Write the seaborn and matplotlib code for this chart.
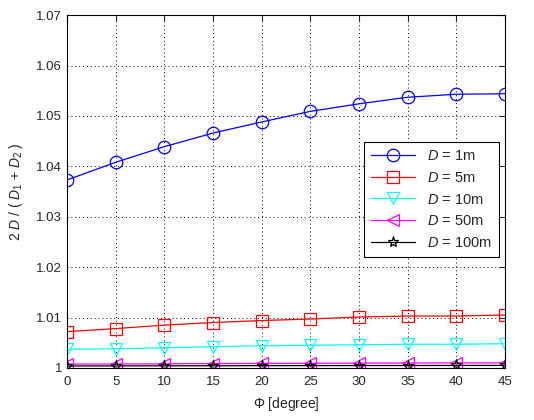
import numpy as np
import pandas as pd
import matplotlib
matplotlib.use('Agg')
import matplotlib.pyplot as plt
import seaborn as sns

# ------------------------ data ------------------------ #
phi = [0, 5, 10, 15, 20, 25, 30, 35, 40, 45]
d_1m = [1.0373, 1.0408, 1.0439, 1.0466, 1.0488, 1.0509, 1.0524, 1.0537, 1.0543, 1.0544]
d_5m = [1.0072, 1.0078, 1.0085, 1.0090, 1.0094, 1.0097, 1.0101, 1.0103, 1.0103, 1.0105]
d_10m = [1.0037, 1.0038, 1.0040, 1.0042, 1.0044, 1.0045, 1.0046, 1.0047, 1.0047, 1.0048]
d_50m = [1.00075, 1.00078, 1.00082, 1.00086, 1.00089, 1.00092, 1.00095, 1.00097, 1.00099, 1.0010]
d_100m = [1.00038, 1.00040, 1.00042, 1.00043, 1.00045, 1.00046, 1.00047, 1.00048, 1.00049, 1.0005]

labels = ['1m', '5m', '10m', '50m', '100m']
colors = ['#0000ff', '#ff0000', '#00ffff', '#ff00ff', '#000000']
markers = ['o', 's', 'v', '<', '*']
y_ticks = [1.0, 1.01, 1.02, 1.03, 1.04, 1.05, 1.06, 1.07]
y_tick_labels = ['1', '1.01', '1.02', '1.03', '1.04', '1.05', '1.06', '1.07']

df = pd.DataFrame({'phi': phi * 5,
                   'ratio': d_1m + d_5m + d_10m + d_50m + d_100m,
                   'D': np.repeat(labels, len(phi))})

sns.set_style('white')
plt.rcParams['font.family'] = ['Liberation Sans', 'DejaVu Sans']
plt.rcParams['mathtext.fontset'] = 'custom'
plt.rcParams['mathtext.rm'] = 'Liberation Sans'
plt.rcParams['mathtext.it'] = 'Liberation Sans:italic'

fig = plt.figure(figsize=(5.34, 4.2), dpi=100)
ax = fig.add_axes([0.1255, 0.124, 0.82, 0.84])

for lab, col, mk in zip(labels, colors, markers):
    sub = df[df['D'] == lab]
    sns.lineplot(data=sub, x='phi', y='ratio', ax=ax, color=col, lw=0.9,
                 marker=mk, markersize=9 if mk != '*' else 8,
                 markerfacecolor='none', markeredgecolor=col, markeredgewidth=0.9,
                 label=r'$\mathit{D}$ = ' + lab)

ax.set_xlim(0, 45)
ax.set_ylim(1.0, 1.07)
ax.set_xticks(phi)
ax.set_yticks(y_ticks)
ax.set_yticklabels(y_tick_labels)
ax.grid(True, color='black', linestyle=(0, (1, 3)), linewidth=0.7)
ax.tick_params(direction='in', top=True, right=True, labelsize=9.5, length=4)
ax.tick_params(axis='x', pad=6)
for s in ax.spines.values():
    s.set_color('black')
    s.set_linewidth(0.8)

ax.set_xlabel(r'$\Phi$ [degree]', fontsize=10, labelpad=5)
ax.set_ylabel(r'2 $\mathit{D}$ / ( $\mathit{D}_1$ + $\mathit{D}_2$ )', fontsize=10, labelpad=8)

leg = ax.legend(loc='upper right', bbox_to_anchor=(0.986, 0.64), borderaxespad=0,
                fontsize=10.5, handlelength=3.0, fancybox=False, framealpha=1,
                edgecolor='black', borderpad=0.5, labelspacing=0.52)
leg.get_frame().set_linewidth(0.8)

fig.savefig('out.png', dpi=100)
